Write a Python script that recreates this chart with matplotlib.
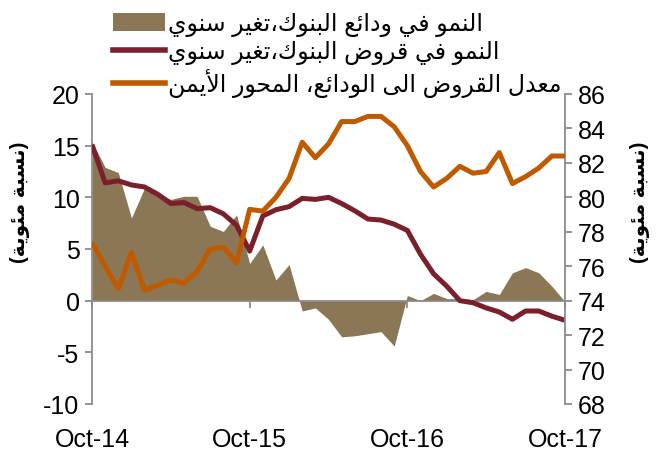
import numpy as np
import matplotlib.pyplot as plt
from matplotlib.patches import Patch
from matplotlib.lines import Line2D

plt.rcParams['font.family'] = ['Liberation Sans', 'DejaVu Sans']
plt.rcParams['axes.unicode_minus'] = False

# -------------------------
# DATA (monthly, Oct-14 .. Oct-17)
# -------------------------
tick_pos = [0, 12, 24, 36]
tick_labels = ["Oct-14", "Oct-15", "Oct-16", "Oct-17"]

deposits_growth = [15.4, 12.9, 12.4, 8.0, 10.9, 10.3, 9.8, 10.1, 10.1, 7.2,
                   6.7, 8.3, 3.6, 5.4, 2.0, 3.5, -1.0, -0.7, -1.8, -3.5,
                   -3.4, -3.2, -3.0, -4.4, 0.5, 0.0, 0.7, 0.2, 0.2, 0.1,
                   0.9, 0.6, 2.7, 3.2, 2.7, 1.4, -0.1]
loans_growth = [15.1, 11.4, 11.6, 11.2, 11.0, 10.3, 9.4, 9.5, 8.9, 9.0,
                8.4, 7.3, 4.8, 8.2, 8.8, 9.1, 9.9, 9.8, 10.0, 9.4,
                8.7, 7.9, 7.8, 7.4, 6.8, 4.5, 2.6, 1.4, 0.0, -0.2,
                -0.7, -1.1, -1.8, -1.0, -1.0, -1.5, -1.9]
ltd_ratio = [77.4, 76.0, 74.7, 76.8, 74.6, 74.9, 75.2, 75.0, 75.7, 77.0,
             77.1, 76.2, 79.3, 79.2, 80.0, 81.1, 83.2, 82.3, 83.1, 84.4,
             84.4, 84.7, 84.7, 84.1, 83.0, 81.5, 80.6, 81.1, 81.8, 81.4,
             81.5, 82.6, 80.8, 81.2, 81.7, 82.4, 82.4]

label_deposits = "النمو في ودائع البنوك،تغير سنوي"
label_loans = "النمو في قروض البنوك،تغير سنوي"
label_ltd = "معدل القروض الى الودائع، المحور الأيمن"
label_pct = "نسبة مئوية"

x = np.arange(len(deposits_growth))

# -------------------------
# simple arabic shaping (matplotlib has no bidi/shaping)
# -------------------------
FORMS = {
    'ا': (0xFE8D, 0xFE8E, None, None), 'أ': (0xFE83, 0xFE84, None, None),
    'ب': (0xFE8F, 0xFE90, 0xFE91, 0xFE92), 'ة': (0xFE93, 0xFE94, None, None),
    'ت': (0xFE95, 0xFE96, 0xFE97, 0xFE98), 'ح': (0xFEA1, 0xFEA2, 0xFEA3, 0xFEA4),
    'د': (0xFEA9, 0xFEAA, None, None), 'ر': (0xFEAD, 0xFEAE, None, None),
    'س': (0xFEB1, 0xFEB2, 0xFEB3, 0xFEB4), 'ض': (0xFEBD, 0xFEBE, 0xFEBF, 0xFEC0),
    'ع': (0xFEC9, 0xFECA, 0xFECB, 0xFECC), 'غ': (0xFECD, 0xFECE, 0xFECF, 0xFED0),
    'ف': (0xFED1, 0xFED2, 0xFED3, 0xFED4), 'ق': (0xFED5, 0xFED6, 0xFED7, 0xFED8),
    'ك': (0xFED9, 0xFEDA, 0xFEDB, 0xFEDC), 'ل': (0xFEDD, 0xFEDE, 0xFEDF, 0xFEE0),
    'م': (0xFEE1, 0xFEE2, 0xFEE3, 0xFEE4), 'ن': (0xFEE5, 0xFEE6, 0xFEE7, 0xFEE8),
    'ه': (0xFEE9, 0xFEEA, 0xFEEB, 0xFEEC), 'و': (0xFEED, 0xFEEE, None, None),
    'ى': (0xFEEF, 0xFEF0, None, None), 'ي': (0xFEF1, 0xFEF2, 0xFEF3, 0xFEF4),
    'ئ': (0xFE89, 0xFE8A, 0xFE8B, 0xFE8C),
}
LAM_ALEF = {'ا': (0xFEFB, 0xFEFC), 'أ': (0xFEF7, 0xFEF8)}


def shape(text):
    out = []
    i = 0
    n = len(text)
    while i < n:
        c = text[i]
        if c not in FORMS:
            out.append(c)
            i += 1
            continue
        prev = text[i - 1] if i > 0 else ''
        joins_prev = prev in FORMS and FORMS[prev][2] is not None
        if c == 'ل' and i + 1 < n and text[i + 1] in LAM_ALEF:
            iso, fin = LAM_ALEF[text[i + 1]]
            out.append(chr(fin if joins_prev else iso))
            i += 2
            continue
        nxt = text[i + 1] if i + 1 < n else ''
        joins_next = FORMS[c][2] is not None and nxt in FORMS
        iso, fin, ini, med = FORMS[c]
        if joins_prev and joins_next:
            out.append(chr(med))
        elif joins_prev:
            out.append(chr(fin))
        elif joins_next:
            out.append(chr(ini))
        else:
            out.append(chr(iso))
        i += 1
    return ''.join(out)[::-1]


# -------------------------
# PLOT
# -------------------------
brown = '#8B7755'
dark_red = '#7B1F2A'
orange = '#C05A00'
grey = '#8C8C8C'

fig = plt.figure(figsize=(6.59, 4.56), dpi=100)
ax = fig.add_axes([92 / 659, 1 - 405 / 456, (565 - 92) / 659, (405 - 95) / 456])
ax2 = ax.twinx()

ax.fill_between(x, deposits_growth, 0, color=brown, linewidth=0, zorder=1)
ax.plot(x, loans_growth, color=dark_red, lw=3.6, solid_joinstyle='round',
        solid_capstyle='butt', zorder=3)
ax2.plot(x, ltd_ratio, color=orange, lw=3.6, solid_joinstyle='round',
         solid_capstyle='butt', zorder=3)

ax.set_xlim(0, 36)
ax.set_ylim(-10, 20)
ax2.set_ylim(68, 86)
ax.set_yticks(np.arange(-10, 21, 5))
ax2.set_yticks(np.arange(68, 87, 2))

for a in (ax, ax2):
    a.spines['top'].set_visible(False)
    for s in a.spines.values():
        s.set_color(grey)
        s.set_linewidth(1.3)
ax.spines['right'].set_visible(False)
ax2.spines['left'].set_visible(False)
ax2.spines['bottom'].set_visible(False)
ax.spines['bottom'].set_position(('data', 0))
ax.spines['bottom'].set_zorder(2)

ax.set_xticks(tick_pos)
ax.set_xticklabels([])
ax.tick_params(axis='x', direction='out', length=5, width=1.3, color=grey)
ax.tick_params(axis='y', direction='out', length=5, width=1.3, color=grey,
               labelsize=18, pad=4)
ax2.tick_params(axis='y', direction='out', length=5, width=1.3, color=grey,
                labelsize=18, pad=4)

for p, lab in zip(tick_pos, tick_labels):
    ax.text(p, -0.075, lab, transform=ax.get_xaxis_transform(), ha='center',
            va='top', fontsize=18)

pct = '(' + shape(label_pct) + ')'
fig.text(20 / 659, 1 - 202 / 456, pct, rotation=90, ha='center', va='center',
         fontsize=14.5, fontweight='bold')
fig.text(640 / 659, 1 - 202 / 456, pct, rotation=90, ha='center', va='center',
         fontsize=14.5, fontweight='bold')

handles = [Patch(facecolor=brown, edgecolor='none'),
           Line2D([], [], color=dark_red, lw=4),
           Line2D([], [], color=orange, lw=4)]
labels = [shape(label_deposits), shape(label_loans), shape(label_ltd)]
fig.legend(handles, labels, loc='upper left', bbox_to_anchor=(104 / 659, 1 - 4 / 456),
           frameon=False, fontsize=17, handlelength=2.2, handleheight=0.8,
           handletextpad=0.1, labelspacing=0.17, borderaxespad=0)

fig.savefig('out.png', dpi=100)
